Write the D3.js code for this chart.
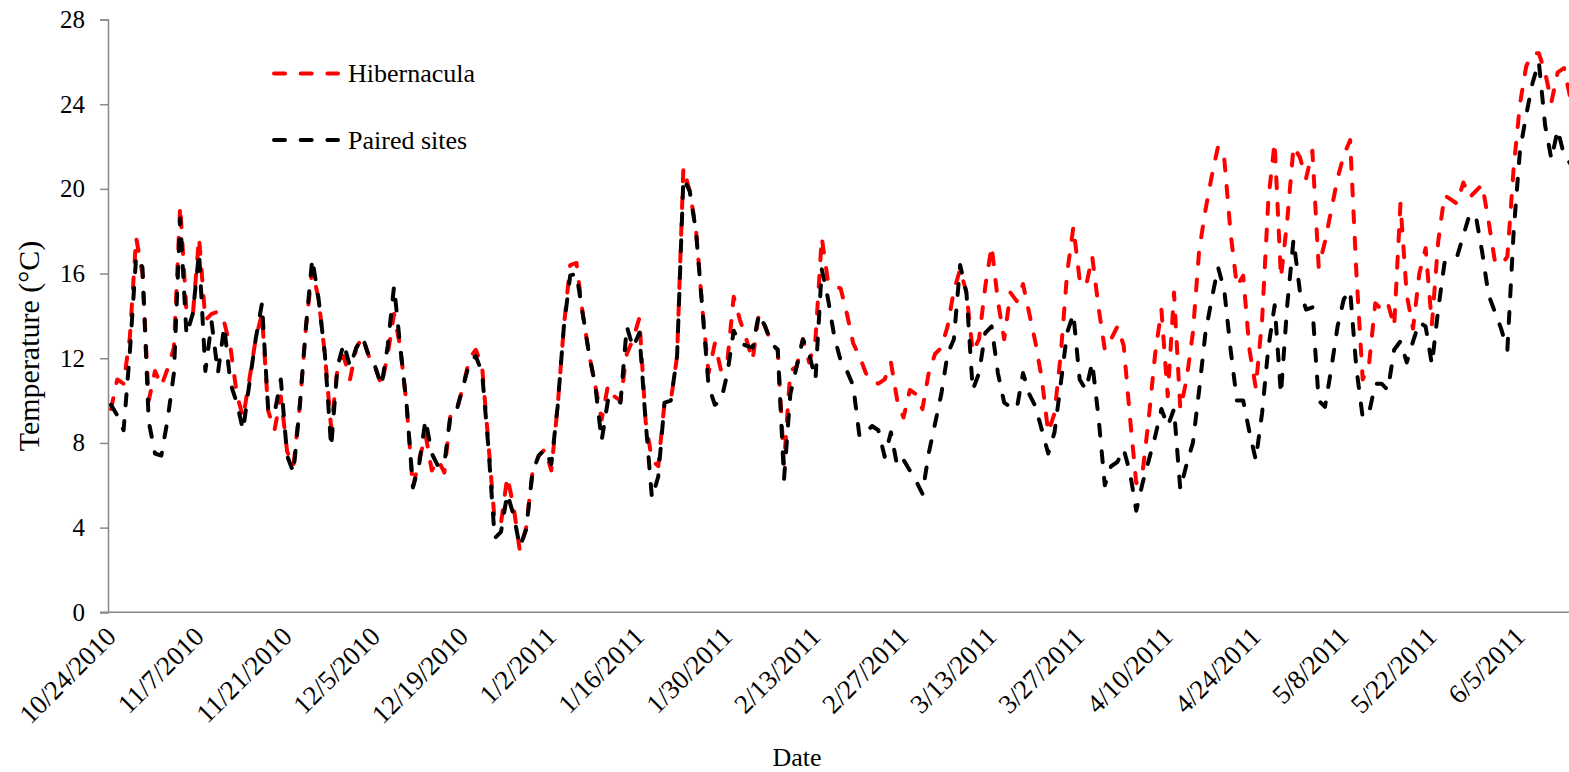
<!DOCTYPE html>
<html><head><meta charset="utf-8">
<script src="https://cdn.jsdelivr.net/npm/d3@7"></script>
<style>body{margin:0;background:#fff}svg{display:block}text{font-family:"Liberation Serif","Times New Roman",serif;fill:#000}</style>
</head><body>
<svg id="c" width="1569" height="772"></svg>
<script>
const startDate = "2010-10-24";
const hibernacula = [9.6,11.0,10.8,13.0,17.7,16.0,10.0,11.4,10.7,11.5,12.5,19.2,14.2,14.0,17.7,13.8,14.1,14.2,13.7,12.5,
10.3,9.2,11.0,12.9,14.1,9.5,8.6,10.2,7.6,6.9,9.7,13.5,16.2,14.8,12.2,8.7,11.5,12.1,11.0,12.5,
13.0,12.1,11.6,10.7,12.2,14.1,12.5,9.8,5.9,7.2,8.4,6.7,7.2,6.6,9.4,9.6,10.7,12.0,12.4,11.6,
8.0,4.3,4.2,6.4,5.0,2.9,4.0,6.6,7.4,7.7,6.7,9.7,13.5,16.4,16.5,14.1,12.2,10.7,9.1,10.7,
10.2,10.0,12.2,12.9,13.9,9.0,7.2,6.9,9.9,10.0,12.1,21.0,19.9,18.1,14.4,11.3,12.7,11.4,11.9,14.9,
13.8,12.9,11.9,14.1,13.5,12.7,12.4,7.0,11.4,11.6,12.9,11.8,12.9,17.7,15.6,15.4,15.3,14.1,12.7,12.1,
11.3,10.9,10.8,11.0,11.8,10.0,9.2,10.5,10.3,9.6,11.3,12.2,12.5,13.5,15.2,16.2,15.1,12.3,12.9,15.4,
17.3,14.7,12.9,15.1,14.7,15.5,14.1,12.7,11.0,8.5,9.4,12.2,16.0,18.2,15.7,15.4,16.8,14.4,12.4,12.9,
13.5,12.6,9.2,6.1,6.6,9.2,12.2,14.3,10.2,15.1,9.6,11.0,13.2,17.1,19.0,20.6,22.0,21.4,17.9,15.4,
15.9,12.4,10.6,13.8,19.5,22.2,15.8,18.5,22.0,21.5,20.5,21.8,16.3,17.5,19.0,20.5,21.6,22.3,16.0,11.0,
11.7,14.6,14.3,14.6,13.5,19.3,15.0,13.4,16.0,17.2,13.6,17.5,19.7,19.5,19.3,20.3,19.6,19.9,20.2,18.5,
16.6,16.4,16.8,21.0,24.0,25.8,26.4,26.4,25.5,24.1,25.5,25.7,24.3];
const pairedSites = [9.8,9.3,8.6,12.3,16.8,16.3,9.0,7.5,7.4,9.1,11.3,18.6,13.1,14.1,17.0,11.4,13.7,11.3,13.5,10.8,
9.9,8.6,10.8,12.9,14.6,9.5,9.4,11.0,7.4,6.6,9.7,13.5,16.7,14.8,12.2,7.8,11.6,12.7,11.6,12.5,
13.0,12.1,11.6,10.7,12.6,15.4,12.5,9.8,5.9,7.0,9.1,7.5,6.9,7.0,9.4,9.6,10.7,11.8,12.1,11.3,
7.8,3.5,3.8,5.6,4.6,3.1,3.9,6.6,7.4,7.7,7.0,9.7,13.5,15.9,16.0,14.1,12.2,10.7,8.1,10.0,
10.2,9.9,13.5,12.5,13.2,9.0,5.4,6.4,9.9,10.0,12.1,20.5,19.9,18.0,14.4,10.7,9.8,10.0,11.3,13.3,
12.7,12.6,12.5,14.1,13.5,12.7,12.4,6.3,10.3,11.6,12.9,12.2,11.0,16.2,14.8,13.0,11.9,11.4,10.7,8.3,
8.5,8.8,8.6,7.35,8.5,6.9,7.2,6.7,6.2,5.6,7.5,8.9,10.3,12.2,12.9,16.4,15.1,10.5,11.3,13.2,
13.5,11.3,9.9,9.7,9.6,11.3,10.3,9.7,8.6,7.5,8.5,10.8,13.2,14.1,11.0,10.5,11.8,9.2,6.0,6.9,
7.1,7.7,6.6,4.8,6.1,7.2,8.3,9.6,8.8,9.6,5.8,7.0,8.0,10.5,13.2,14.8,16.3,15.2,12.4,10.0,
10.0,8.5,7.2,9.4,12.5,14.5,10.3,14.5,17.6,15.2,14.3,14.4,10.0,9.7,11.5,13.5,14.8,15.2,11.5,9.2,
9.4,10.8,10.8,10.5,12.4,12.8,11.8,12.8,13.7,13.5,11.7,14.3,16.5,16.6,16.8,17.8,18.8,18.7,17.0,15.0,
14.2,13.4,12.4,18.0,21.8,23.5,25.0,26.0,23.0,21.4,22.8,21.6,21.2];
const tickLabels = ["10/24/2010","11/7/2010","11/21/2010","12/5/2010","12/19/2010","1/2/2011","1/16/2011","1/30/2011",
"2/13/2011","2/27/2011","3/13/2011","3/27/2011","4/10/2011","4/24/2011","5/8/2011","5/22/2011","6/5/2011"];
const yTicks = [0,4,8,12,16,20,24,28];
const seriesNames = ["Hibernacula","Paired sites"];
const seriesColors = ["#ff0000","#000000"];

const svg = d3.select("#c");
const t0 = d3.utcParse("%Y-%m-%d")(startDate);
const dates = hibernacula.map((_, i) => d3.utcDay.offset(t0, i));
const parseTick = d3.utcParse("%m/%d/%Y");

const x = d3.scaleUtc().domain([t0, d3.utcDay.offset(t0, 231)]).range([111, 111 + 231 * 6.29]);
const y = d3.scaleLinear().domain([0, 28]).range([612.3, 19.5]);
const axisColor = "#898989";
const dash = "11,15.7";
const serif = '"Liberation Serif","Times New Roman",serif';

svg.append("defs").append("clipPath").attr("id","clip")
  .append("rect").attr("x",100).attr("y",0).attr("width",1469).attr("height",640);

// y axis
const yAxis = svg.append("g").attr("transform","translate(108,0)")
  .call(d3.axisLeft(y).tickValues(yTicks).tickSize(8).tickPadding(15).tickFormat(d3.format("d")));
yAxis.select(".domain").attr("stroke",axisColor).attr("stroke-width",1.5);
yAxis.selectAll(".tick line").attr("stroke",axisColor).attr("stroke-width",1.5);
yAxis.selectAll(".tick text").style("font-family",serif).style("font-size","25px").attr("fill","#000");

// x axis
const xAxis = svg.append("g").attr("transform","translate(0,612.3)")
  .call(d3.axisBottom(x).tickValues(tickLabels.map(parseTick)).tickSize(0).tickFormat((d,i)=>tickLabels[i]));
xAxis.select(".domain").remove();
svg.append("line").attr("x1",100).attr("x2",1569).attr("y1",612.3).attr("y2",612.3)
  .attr("stroke",axisColor).attr("stroke-width",1.5);
xAxis.selectAll(".tick text")
  .style("font-family",serif).style("font-size","27px").attr("fill","#000")
  .attr("text-anchor","end").attr("dy",null).attr("y",null)
  .attr("transform","translate(6,26) rotate(-45)");

// lines
const line = d3.line().x((d,i)=>x(dates[i])).y(d=>y(d));
const g = svg.append("g").attr("clip-path","url(#clip)");
[hibernacula, pairedSites].forEach((s, k) => {
  g.append("path").datum(s).attr("d", line).attr("fill","none")
    .attr("stroke", seriesColors[k]).attr("stroke-width",4)
    .attr("stroke-dasharray",dash).attr("stroke-linecap","round").attr("stroke-linejoin","round");
});

// legend
const legY = [73.5, 140];
seriesNames.forEach((n,k)=>{
  svg.append("line").attr("x1",274).attr("x2",338).attr("y1",legY[k]).attr("y2",legY[k])
    .attr("stroke",seriesColors[k]).attr("stroke-width",4).attr("stroke-dasharray",dash).attr("stroke-linecap","round");
  svg.append("text").attr("x",348).attr("y",legY[k]+8.5).style("font-size","26px").text(n);
});

// axis titles
svg.append("text").attr("transform","translate(39,346) rotate(-90)").attr("text-anchor","middle")
  .style("font-size","30px").text("Temperature (°C)");
svg.append("text").attr("x",797).attr("y",766).attr("text-anchor","middle").style("font-size","26px").text("Date");
</script>
</body></html>
